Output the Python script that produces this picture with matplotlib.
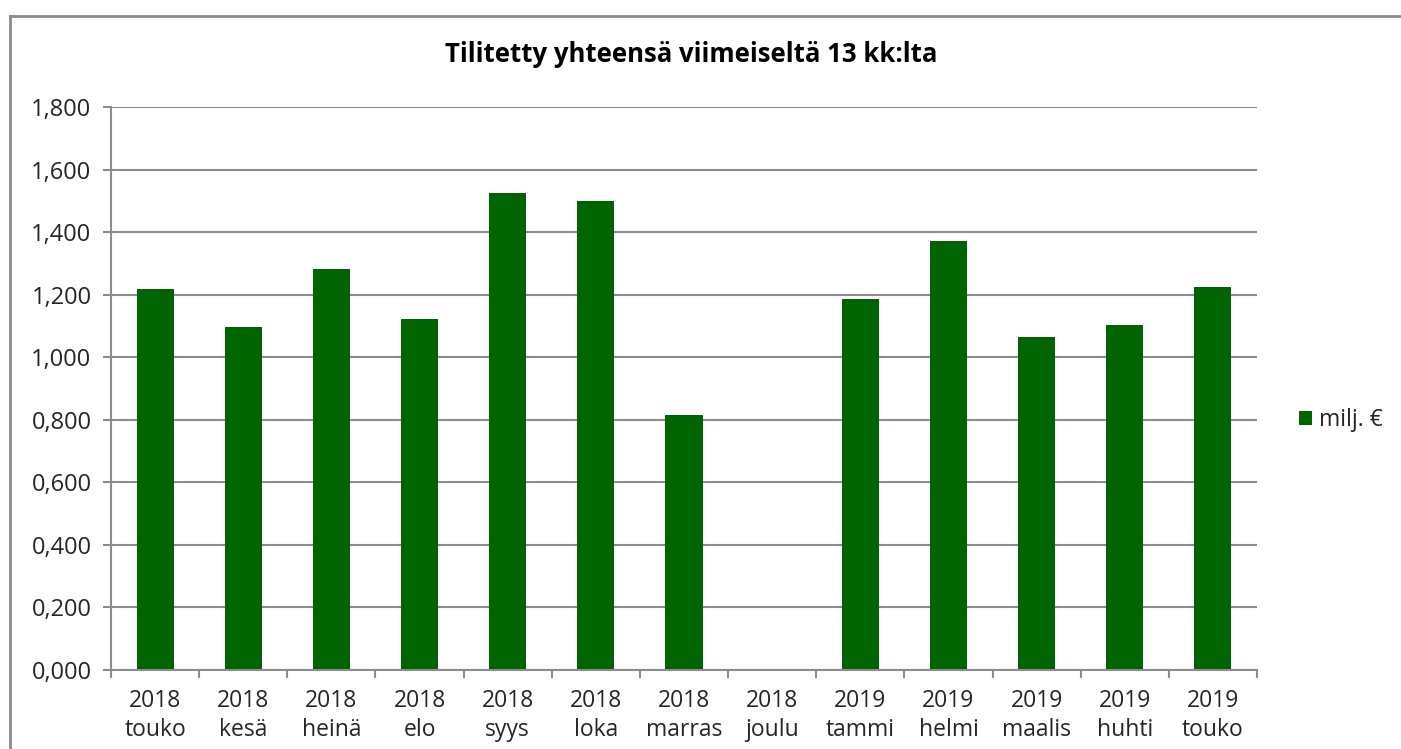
import numpy as np
import matplotlib.pyplot as plt
from matplotlib.lines import Line2D

years = ['2018'] * 8 + ['2019'] * 5
months = ['touko', 'kesä', 'heinä', 'elo', 'syys', 'loka', 'marras', 'joulu',
          'tammi', 'helmi', 'maalis', 'huhti', 'touko']
values = [1.218, 1.097, 1.282, 1.122, 1.525, 1.499, 0.815, 0.0,
          1.186, 1.371, 1.065, 1.103, 1.224]
yticks = [0.0, 0.2, 0.4, 0.6, 0.8, 1.0, 1.2, 1.4, 1.6, 1.8]

plt.rcParams['font.family'] = ['Open Sans', 'DejaVu Sans']
grid_col = '#8c8c8c'
green = '#006400'
txt_col = '#262626'

fig = plt.figure(figsize=(14.01, 7.49), dpi=100)
ax = fig.add_axes([111/1401, 79/749, (1257-111)/1401, (670-107)/749])

x = np.arange(len(values))
ax.bar(x, values, width=0.42, color=green, label='milj. €', zorder=3)

ax.set_xlim(-0.5, len(values) - 0.5)
ax.set_ylim(0, 1.8)
ax.set_yticks(yticks)
ax.set_yticklabels([('%.3f' % v).replace('.', ',') for v in yticks],
                   fontsize=17, color=txt_col)
ax.set_xticks(x)
ax.set_xticklabels([y + '\n' + m for y, m in zip(years, months)],
                   fontsize=16.5, color=txt_col, linespacing=1.25)
ax.set_xticks(np.arange(-0.5, len(values)), minor=True)
ax.tick_params(axis='x', which='major', length=0, pad=14)
ax.tick_params(axis='x', which='minor', length=6, width=1.5, color=grid_col)
ax.tick_params(axis='y', length=6, width=1.5, color=grid_col, pad=8)

ax.grid(axis='y', color=grid_col, linewidth=1.5, zorder=0)
for s in ['top', 'right']:
    ax.spines[s].set_visible(False)
for s in ['left', 'bottom']:
    ax.spines[s].set_color(grid_col)
    ax.spines[s].set_linewidth(1.5)
    ax.spines[s].set_zorder(4)

fig.text(691/1401, 1 - 55/749, 'Tilitetty yhteensä viimeiseltä 13 kk:lta',
         ha='center', va='center', fontsize=18.5, fontweight='bold', color='black')

fig.legend(loc='center left', bbox_to_anchor=(1278/1401, 1 - 420/749),
           frameon=False, fontsize=16.5, handlelength=0.6, handleheight=0.6,
           handletextpad=0.3, labelcolor=txt_col)

# outer chart border (only top and left visible in the reference crop)
top = 1 - 16/749
left = 10/1401
fig.add_artist(Line2D([left, 1.0], [top, top], transform=fig.transFigure,
                      color='#8a8a8a', linewidth=2))
fig.add_artist(Line2D([left, left], [0.0, top], transform=fig.transFigure,
                      color='#8a8a8a', linewidth=2))

fig.savefig('out.png', dpi=100)
